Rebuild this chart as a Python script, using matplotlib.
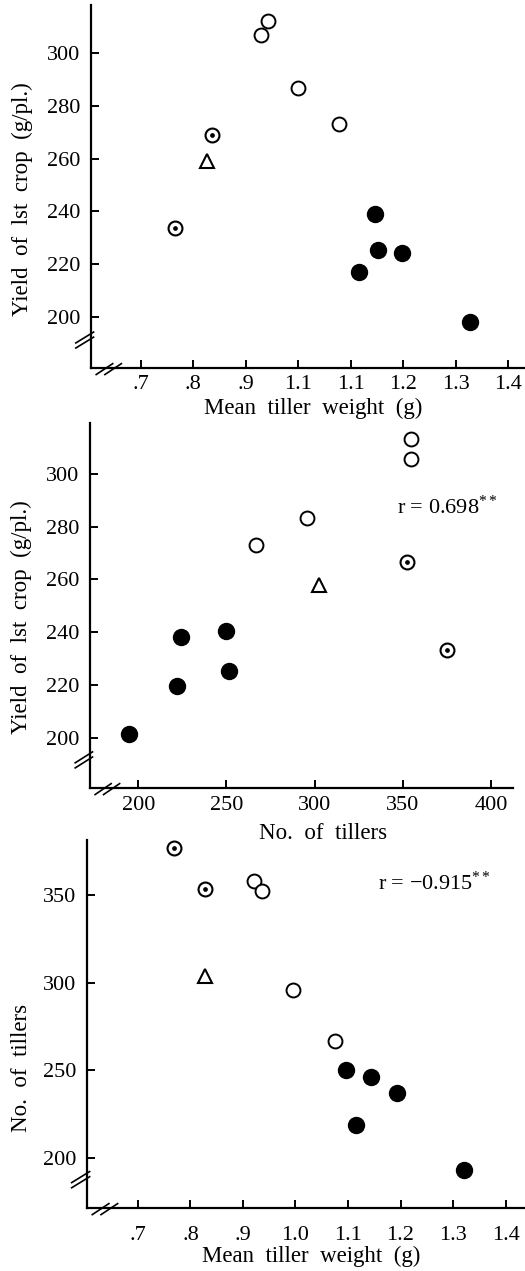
import matplotlib
matplotlib.use("Agg")
import matplotlib.pyplot as plt

plt.rcParams["font.family"] = ["Liberation Serif", "DejaVu Serif"]
plt.rcParams["mathtext.fontset"] = "custom"
plt.rcParams["mathtext.rm"] = "Liberation Serif"
plt.rcParams["mathtext.it"] = "Liberation Serif:italic"

# --- panel 1: yield vs mean tiller weight ---
w1_open = [0.929, 0.942, 1.000, 1.078]
y1_open = [306.8, 312.0, 286.6, 273.2]
w1_filled = [1.147, 1.152, 1.116, 1.198, 1.328]
y1_filled = [239.0, 225.4, 217.0, 224.3, 198.2]
w1_tri = [0.826]
y1_tri = [259.2]
w1_dot = [0.765, 0.835]
y1_dot = [233.7, 269.0]

# --- panel 2: yield vs number of tillers ---
n2_open = [266.5, 295.4, 354.5, 354.5]
y2_open = [273.0, 283.2, 313.2, 305.7]
n2_filled = [194.9, 221.8, 224.2, 249.7, 251.4]
y2_filled = [201.5, 219.5, 238.2, 240.4, 225.2]
n2_tri = [302.5]
y2_tri = [257.8]
n2_dot = [352.1, 374.8]
y2_dot = [266.7, 233.4]

# --- panel 3: number of tillers vs mean tiller weight ---
w3_open = [0.921, 0.937, 0.996, 1.075]
n3_open = [358.3, 352.5, 296.0, 266.9]
w3_filled = [1.097, 1.144, 1.193, 1.115, 1.320]
n3_filled = [250.4, 246.0, 237.0, 219.0, 193.0]
w3_tri = [0.827]
n3_tri = [304.0]
w3_dot = [0.768, 0.827]
n3_dot = [377.2, 353.6]

weight_ticks = [0.7, 0.8, 0.9, 1.0, 1.1, 1.2, 1.3, 1.4]
weight_labels_1 = [".7", ".8", ".9", "1.1", "1.1", "1.2", "1.3", "1.4"]
weight_labels_3 = [".7", ".8", ".9", "1.0", "1.1", "1.2", "1.3", "1.4"]
tiller_ticks = [200, 250, 300, 350, 400]
yield_ticks = [200, 220, 240, 260, 280, 300]
tiller_yticks = [200, 250, 300, 350]

r_panel2 = "0.698"
r_panel3 = "\u22120.915"

W, H = 525, 1271
fig = plt.figure(figsize=(W / 100, H / 100), dpi=100)

LABEL_SIZE = 16.5
TICK_SIZE = 16


def px_axes(left, right, top, bottom):
    return fig.add_axes([left / W, 1 - bottom / H, (right - left) / W, (bottom - top) / H])


def style(ax, xpad):
    for s in ("top", "right"):
        ax.spines[s].set_visible(False)
    for s in ("left", "bottom"):
        ax.spines[s].set_linewidth(1.6)
    ax.tick_params(axis="both", direction="in", length=6, width=1.4, labelsize=TICK_SIZE)
    ax.tick_params(axis="x", pad=xpad)
    ax.tick_params(axis="y", pad=8)
    # break marks on both axes
    kw = dict(transform=ax.transAxes, color="black", lw=1.2, clip_on=False)
    for dy in (0.0, 0.014):
        ax.plot([-0.035, 0.006], [0.055 + dy, 0.085 + dy], **kw)
    for dx in (0.0, 0.02):
        ax.plot([0.012 + dx, 0.05 + dx], [-0.018, 0.012], **kw)


def draw_points(ax, xo, yo, xf, yf, xt, yt, xd, yd):
    ax.plot(xo, yo, "o", ms=10, mfc="white", mec="black", mew=1.4, ls="none", clip_on=False)
    ax.plot(xf, yf, "o", ms=11.5, mfc="black", mec="black", ls="none", clip_on=False)
    ax.plot(xt, yt, "^", ms=9.5, mfc="white", mec="black", mew=1.5, ls="none", clip_on=False)
    ax.plot(xd, yd, "o", ms=10, mfc="white", mec="black", mew=1.5, ls="none", clip_on=False)
    ax.plot(xd, yd, "o", ms=2.4, mfc="black", mec="black", ls="none", clip_on=False)


# panel 1
ax1 = px_axes(91, 525, 5, 368)
ax1.set_xlim(0.605, 1.432)
ax1.set_ylim(180.6, 318.2)
draw_points(ax1, w1_open, y1_open, w1_filled, y1_filled, w1_tri, y1_tri, w1_dot, y1_dot)
ax1.set_xticks(weight_ticks)
ax1.set_xticklabels(weight_labels_1)
ax1.set_yticks(yield_ticks)
style(ax1, 5)
ax1.set_xlabel("Mean  tiller  weight  (g)", fontsize=LABEL_SIZE)
ax1.set_ylabel("Yield  of  lst  crop  (g/pl.)", fontsize=LABEL_SIZE)
ax1.xaxis.set_label_coords(0.512, -0.083)
ax1.yaxis.set_label_coords(-0.134, 0.466)

# panel 2
ax2 = px_axes(90, 513, 423, 788)
ax2.set_xlim(172.6, 412.5)
ax2.set_ylim(180.9, 319.3)
draw_points(ax2, n2_open, y2_open, n2_filled, y2_filled, n2_tri, y2_tri, n2_dot, y2_dot)
ax2.set_xticks(tiller_ticks)
ax2.set_yticks(yield_ticks)
style(ax2, 6)
ax2.set_xlabel("No.  of  tillers", fontsize=LABEL_SIZE)
ax2.set_ylabel("Yield  of  lst  crop  (g/pl.)", fontsize=LABEL_SIZE)
ax2.xaxis.set_label_coords(0.551, -0.096)
ax2.yaxis.set_label_coords(-0.137, 0.468)
ax2.text(0.726, 0.77, "r = " + r_panel2 + "$^{**}$", transform=ax2.transAxes,
         fontsize=16, ha="left", va="center")

# panel 3
ax3 = px_axes(87, 525, 840, 1208)
ax3.set_xlim(0.603, 1.437)
ax3.set_ylim(171.3, 381.6)
draw_points(ax3, w3_open, n3_open, w3_filled, n3_filled, w3_tri, n3_tri, w3_dot, n3_dot)
ax3.set_xticks(weight_ticks)
ax3.set_xticklabels(weight_labels_3)
ax3.set_yticks(tiller_yticks)
style(ax3, 13)
ax3.set_xlabel("Mean  tiller  weight  (g)", fontsize=LABEL_SIZE)
ax3.set_ylabel("No.  of  tillers", fontsize=LABEL_SIZE)
ax3.xaxis.set_label_coords(0.511, -0.103)
ax3.yaxis.set_label_coords(-0.126, 0.38)
ax3.text(0.664, 0.883, "r = " + r_panel3 + "$^{**}$", transform=ax3.transAxes,
         fontsize=16, ha="left", va="center")

fig.savefig("out.png", dpi=100)
